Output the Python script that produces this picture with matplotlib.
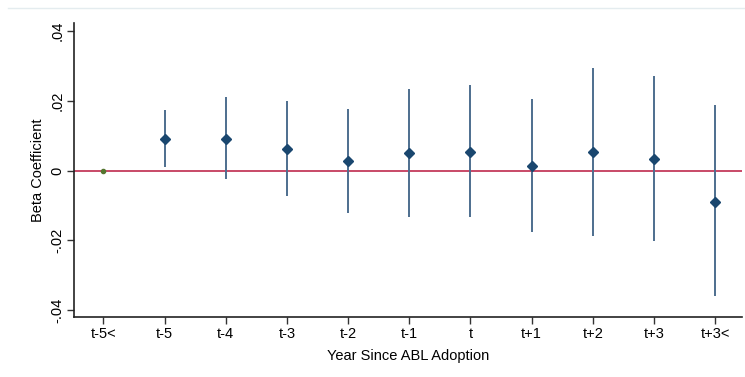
import matplotlib.pyplot as plt
from matplotlib.lines import Line2D

plt.rcParams['font.family'] = ['Liberation Sans', 'DejaVu Sans']

# event-time categories and estimates
labels = ["t-5<", "t-5", "t-4", "t-3", "t-2", "t-1", "t", "t+1", "t+2", "t+3", "t+3<"]
beta = [0.0, 0.0091, 0.0091, 0.0063, 0.0028, 0.0050, 0.0053, 0.0013, 0.0053, 0.0034, -0.0089]
ci_low = [0.0, 0.0011, -0.0025, -0.0073, -0.0123, -0.0132, -0.0133, -0.0177, -0.0187, -0.0201, -0.0361]
ci_high = [0.0, 0.0174, 0.0210, 0.0199, 0.0177, 0.0233, 0.0246, 0.0206, 0.0295, 0.0270, 0.0189]
yticks = [-0.04, -0.02, 0, 0.02, 0.04]
ytick_labels = ["-.04", "-.02", "0", ".02", ".04"]

navy = '#1a476f'

fig = plt.figure(figsize=(7.45, 3.77), dpi=100)
ax = fig.add_axes([74 / 745, 60 / 377, (742 - 74) / 745, (317 - 23) / 377])

x = list(range(len(labels)))

# reference line at zero
ax.axhline(0, color='#c43a5c', lw=1.3, zorder=1)

# baseline category (no CI)
ax.plot(x[0], beta[0], 'o', color='#55752f', ms=3, zorder=3)

# confidence intervals and point estimates
ax.vlines(x[1:], ci_low[1:], ci_high[1:], color='#4d6e8e', lw=1.4, zorder=2)
ax.plot(x[1:], beta[1:], 'D', color=navy, ms=5.5, ls='none', zorder=3)

ax.set_xlim(-0.48, 10.44)
ax.set_ylim(-0.042, 0.0423)
ax.set_xticks(x)
ax.set_xticklabels(labels, fontsize=10.5)
ax.set_yticks(yticks)
ax.set_yticklabels(ytick_labels, fontsize=10.5, rotation=90, va='center')

ax.spines['top'].set_visible(False)
ax.spines['right'].set_visible(False)
for s in ['left', 'bottom']:
    ax.spines[s].set_color('#222222')
    ax.spines[s].set_linewidth(1.2)
ax.tick_params(axis='both', length=5, width=1, color='#333333')
ax.tick_params(axis='x', pad=2)
ax.tick_params(axis='y', pad=2)

ax.set_xlabel("Year Since ABL Adoption", fontsize=10.5, labelpad=6)
ax.set_ylabel("Beta Coefficient", fontsize=10.5, labelpad=4)

# faint graph-region border at the top
fig.add_artist(Line2D([8 / 745, 1], [1 - 8 / 377, 1 - 8 / 377], color='#e4ecef', lw=1))

fig.savefig('out.png', dpi=100)
